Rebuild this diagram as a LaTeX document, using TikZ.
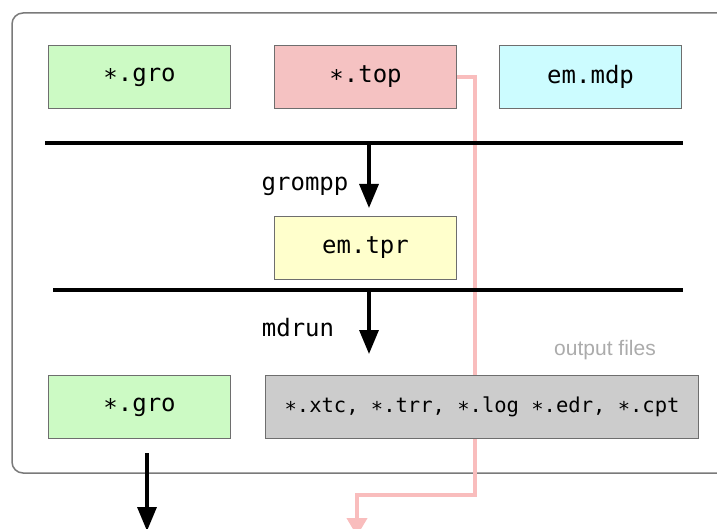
\documentclass[tikz,border=0pt]{standalone}
\usepackage{fontspec}
\setmonofont{DejaVu Sans Mono}
\setsansfont{Liberation Sans}
\usetikzlibrary{arrows.meta}
\definecolor{grofill}{HTML}{CCFAC4}
\definecolor{topfill}{HTML}{F5C2C2}
\definecolor{mdpfill}{HTML}{CCFCFF}
\definecolor{tprfill}{HTML}{FFFFCC}
\definecolor{outfill}{HTML}{CCCCCC}
\definecolor{boxline}{HTML}{6E6E6E}
\definecolor{frameline}{HTML}{7A7A7A}
\definecolor{flowpink}{HTML}{F9BDBD}
\definecolor{notegray}{HTML}{ABABAB}
\tikzset{
  filebox/.style={draw=boxline, line width=1.1pt, minimum width=182pt,
    minimum height=63pt, inner sep=0pt, anchor=north west,
    font=\ttfamily\fontsize{24}{28}\selectfont},
  stage/.style={line width=3.4pt},
  flow/.style={line width=3.4pt, -{Triangle[width=19pt,length=24pt]}},
  cmd/.style={font=\ttfamily\fontsize{24}{28}\selectfont, anchor=base},
}
\begin{document}
\begin{tikzpicture}[x=1pt, y=-1pt]
  \useasboundingbox (0,0) rectangle (717,529);
  % enclosing frame, open to the right
  \draw[frameline, line width=1.5pt, rounded corners=11pt] (12,13) rectangle (760,473);

  % topology path running down past the frame
  \coordinate (tbend) at (475,495);
  \coordinate (tleft) at (357,495);
  \coordinate (tend) at (357,536);

  % input files
  \node[filebox, fill=grofill] (gro) at (48,45) {∗.gro};
  \node[filebox, fill=topfill] (top) at (274,45) {∗.top};
  \node[filebox, fill=mdpfill] (mdp) at (499,45) {em.mdp};

  \draw[flowpink, line width=4pt, -{Triangle[width=20pt,length=18pt]}]
    (top.east) -| (tbend) -- (tleft) -- (tend);

  % grompp stage
  \coordinate (l1a) at (45,143);
  \coordinate (l1b) at (683,143);
  \coordinate (l1m) at (369,143);
  \draw[stage] (l1a) -- (l1b);
  \node[filebox, fill=tprfill] (tpr) at (274,216) {em.tpr};
  \draw[flow] (l1m) -- (369,208);
  \node[cmd] (grompp) at (305,190.5) {grompp};

  % mdrun stage
  \coordinate (l2a) at (53,290);
  \coordinate (l2b) at (683,290);
  \coordinate (l2m) at (369,290);
  \draw[stage] (l2a) -- (l2b);
  \draw[flow] (l2m) -- (369,354);
  \node[cmd] (mdrun) at (298,336.5) {mdrun};

  \node[font=\sffamily\fontsize{21}{24}\selectfont, text=notegray] (outlbl) at (605,350) {output files};

  % output files
  \node[filebox, fill=grofill] (gro2) at (48,375) {∗.gro};
  \node[filebox, fill=outfill, minimum width=433pt, font=\ttfamily\fontsize{20.5}{24}\selectfont]
    (outs) at (265,375) {∗.xtc, ∗.trr, ∗.log ∗.edr, ∗.cpt};

  \coordinate (groout) at (147,453);
  \coordinate (groend) at (147,531);
  \draw[flow] (groout) -- (groend);
\end{tikzpicture}
\end{document}
